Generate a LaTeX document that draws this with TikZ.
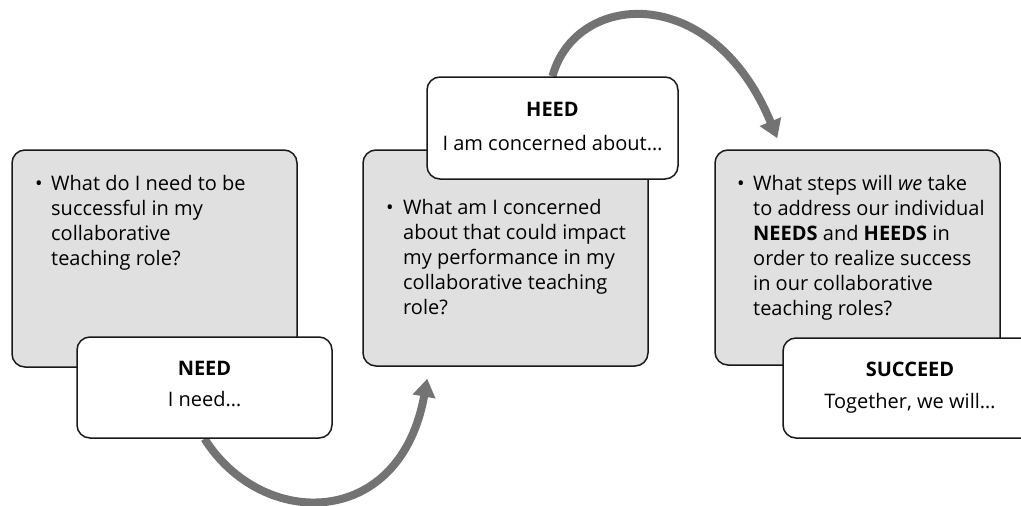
\documentclass[tikz,border=0pt]{standalone}
\usepackage{fontspec}
\setmainfont{Open Sans}
\usetikzlibrary{arrows.meta,calc}
\pgfdeclarelayer{background}
\pgfsetlayers{background,main}
\begin{document}
\begin{tikzpicture}[x=1pt,y=-1pt,
  qbox/.style={draw=black!90, line width=1.5pt, rounded corners=13pt, fill=black!12, inner sep=0pt},
  tagbox/.style={draw=black!90, line width=1.5pt, rounded corners=13pt, fill=white, inner sep=0pt},
  % multi-line text: the base anchor sits on the last line
  qtext/.style={anchor=base west, align=left, inner sep=0pt, font=\fontsize{20}{25}\selectfont},
  bul/.style={anchor=base, inner sep=0pt, font=\fontsize{20}{25}\selectfont},
  ttl/.style={anchor=base, inner sep=0pt, font=\fontsize{20}{25}\selectfont\bfseries},
  sub/.style={anchor=base, inner sep=0pt, font=\fontsize{20}{25}\selectfont},
  flow/.style={draw=black!55, line width=8pt, -{Triangle[width=22pt,length=18pt]}}
]
\useasboundingbox (0,0) rectangle (1021,506);

% question boxes
\node[qbox, minimum width=285pt, minimum height=217pt] (lq) at (154.5,258.5) {};
\node[qbox, minimum width=285pt, minimum height=216pt] (mq) at (505.5,258) {};
\node[qbox, minimum width=285pt, minimum height=215pt] (rq) at (857.5,257.5) {};

% bullet texts
\node[bul] (lb) at (39,190) {•};
\node[qtext] (lt) at (51,265) {What do I need to be\\successful in my\\collaborative\\teaching role?};
\node[bul] (mb) at (390,214) {•};
\node[qtext] (mt) at (403,314) {What am I concerned\\about that could impact\\my performance in my\\collaborative teaching\\role?};
\node[bul] (rb) at (741,190) {•};
\node[qtext] (rt) at (753,315) {What steps will \emph{we} take\\to address our individual\\\textbf{NEEDS} and \textbf{HEEDS} in\\order to realize success\\in our collaborative\\teaching roles?};

% stage tags
\node[tagbox, minimum width=255pt, minimum height=101pt] (need) at (204.5,387.5) {};
\node[ttl] (needt) at (204.5,375) {NEED};
\node[sub] (needs) at (204.5,406) {I need\dots};

\node[tagbox, minimum width=251pt, minimum height=102pt] (heed) at (552.5,128) {};
\node[ttl] (heedt) at (552.5,116) {HEED};
\node[sub] (heeds) at (552.5,150) {I am concerned about\dots};

\node[tagbox, minimum width=254pt, minimum height=100pt] (succ) at (910,388) {};
\node[ttl] (succt) at (910,376) {SUCCEED};
\node[sub] (succs) at (910,408) {Together, we will\dots};

% arrow end points
\coordinate (tipA) at ($(mq.south west)+(65,12)$);
\coordinate (tipB) at ($(rq.north west)+(63,-11)$);

\begin{pgfonlayer}{background}
  \draw[flow] (need.south) .. controls (262,530) and (400,530) .. (tipA);
  \draw[flow] (heed.north) .. controls (575,-8) and (712,-20) .. (tipB);
\end{pgfonlayer}
\end{tikzpicture}
\end{document}
